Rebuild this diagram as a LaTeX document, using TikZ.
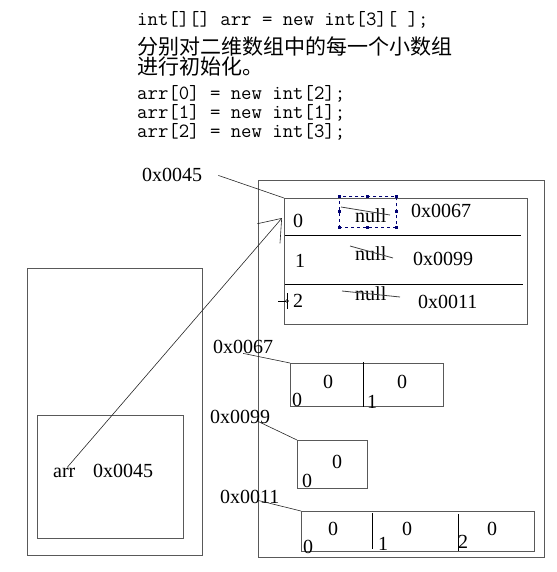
\documentclass[tikz,border=0pt]{standalone}
\usepackage{fontspec}
\setmainfont{Liberation Serif}
\newfontfamily\cjkfont{Noto Sans CJK SC}
\usetikzlibrary{arrows.meta,positioning}

\begin{document}
\begin{tikzpicture}[x=1pt,y=-1pt,
        box/.style={draw=black!65,line width=1.1pt,inner sep=0pt,anchor=north west},
        lbl/.style={inner sep=0pt,anchor=base west,font=\fontsize{20}{20}\selectfont},
        code/.style={inner sep=0pt,anchor=base west,font=\ttfamily\fontsize{20.2}{20}\selectfont},
        note/.style={inner sep=0pt,anchor=base west,font=\cjkfont\fontsize{21}{21}\selectfont},
        link/.style={draw=black!85,line width=0.6pt},
        strike/.style={draw=black!75,line width=0.8pt},
        handle/.style={fill=blue!45!black}]
\useasboundingbox (0,0) rectangle (556,572);

% code
\node[code] (decl) at (137,26) {int[][] arr = new int[3][ ];};
\node[note] (note1) at (137,55) {分别对二维数组中的每一个小数组};
\node[note] (note2) at (137,75) {进行初始化。};
\foreach \i/\n in {0/2,1/1,2/3}
    \node[code] (init\i) at (137,{100+19*\i}) {arr[\i] = new int[\n];};

% stack
\node[box,minimum width=175,minimum height=287] (stack) at (27,268) {};
\node[box,minimum width=146,minimum height=123] (frame) at (37,415) {};
\node[lbl] (arr) at (53,477) {arr};
\node[lbl] (ref45) at (93,477) {0x0045};

% heap
\node[box,minimum width=286,minimum height=377] (heap) at (258,180) {};
\node[lbl] (addr45) at (142,182) {0x0045};
\node[box,minimum width=243,minimum height=126] (tbl) at (284,198) {};
\draw[line width=0.8pt] (285,235) -- (521,235);
\draw[line width=0.8pt] (285,284) -- (523,284);
\foreach \r/\rx/\y/\a/\ax/\ay in {0/293/227/0x0067/411/217,1/295/267/0x0099/413/265,2/293/307/0x0011/418/308} {
    \node[lbl] (row\r) at (\rx,\y) {\r};
    \node[lbl] (addr\r) at (\ax,\ay) {\a};
}
\node[lbl] (null0) at (355,222) {null};
\node[lbl] (null1) at (355,260) {null};
\node[lbl] (null2) at (355,300) {null};
\draw[strike] (341,207) -- (390,215);
\draw[strike] (350,246) -- (393,258);
\draw[strike] (342,291) -- (400,297);
\node[draw=blue!45!black,dashed,line width=0.6pt,inner sep=0pt,anchor=north west,
    minimum width=57,minimum height=31] (sel) at (339,196) {};
\foreach \a in {north west,north,north east,east,south east,south,south west,west}
    \fill[handle] (sel.\a) +(-1.5,-1.5) rectangle +(1.5,1.5);
\draw[line width=0.6pt] (278,301) -- (286,301) (287,293) -- (287,309);
\draw[line width=0.5pt] (287,301) circle (1.5);

\coordinate (tip) at (282,218);
\draw[link,-{Straight Barb[length=20pt,width=30pt]}] (arr.60) -- (tip);
\draw[link] ([xshift=16pt]addr45.east) -- (tbl.north west);

% arr[0]
\node[lbl] (addr67) at (213,353) {0x0067};
\node[box,minimum width=153,minimum height=43] (arr67) at (290,363) {};
\draw[line width=0.8pt] (363,362) -- (363,407);
\node[lbl] (v670) at (323,388) {0};
\node[lbl] (v671) at (397,388) {0};
\node[lbl] (i670) at (292,406) {0};
\node[lbl] (i671) at (367,408) {1};
\draw[link] (addr67.south) -- (arr67.north west);

% arr[1]
\node[lbl] (addr99) at (210,423) {0x0099};
\node[box,minimum width=70,minimum height=48] (arr99) at (297,440) {};
\node[lbl] (v990) at (332,468) {0};
\node[lbl] (i990) at (302,487) {0};
\draw[link] ([yshift=2pt]addr99.south -| heap.west) -- (arr99.north west);

% arr[2]
\node[lbl] (addr11) at (220,503) {0x0011};
\node[box,minimum width=233,minimum height=40] (arr11) at (301,511) {};
\draw[line width=0.8pt] (372,513) -- (372,549);
\draw[line width=0.8pt] (458,514) -- (458,551);
\foreach \k/\vx/\ix/\iy in {0/328/303/553,1/402/378/550,2/487/458/548} {
    \node[lbl] (v11\k) at (\vx,535) {0};
    \node[lbl] (i11\k) at (\ix,\iy) {\k};
}
\draw[link] ([yshift=3pt]addr11.south -| heap.west) -- (arr11.north west);

\end{tikzpicture}
\end{document}
